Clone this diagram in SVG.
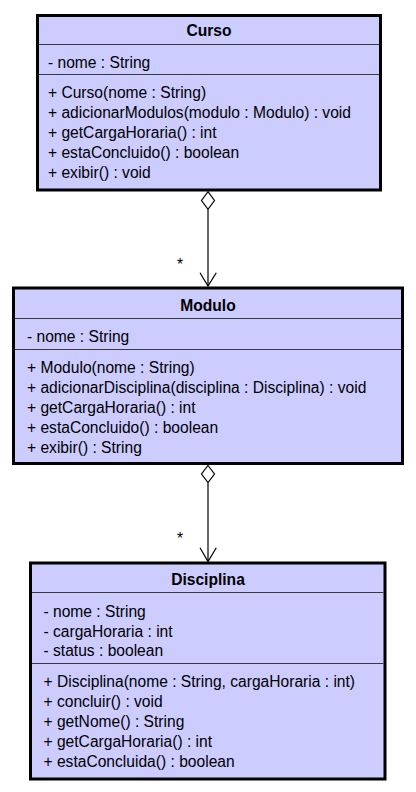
<svg xmlns="http://www.w3.org/2000/svg" width="416" height="792" viewBox="0 0 416 792">
<style>
.box{fill:#ccccff;stroke:#000;stroke-width:3}
.sep{stroke:#3a3a3a;stroke-width:1.2}
.t{font-family:"Liberation Sans",Arial,sans-serif;font-size:15.6px;fill:#000}
.title{font-weight:bold;text-anchor:middle}
.edge{stroke:#000;stroke-width:1.2;fill:none}
.dia{fill:#fff;stroke:#000;stroke-width:1.2}
.star{font-family:"Liberation Sans",Arial,sans-serif;font-size:15.6px;text-anchor:middle}
</style>
<rect width="416" height="792" fill="#fff"/>
<g id="Curso">
<rect class="box" x="37.5" y="15.5" width="343" height="174.5"/>
<line class="sep" x1="39" y1="44.5" x2="379" y2="44.5"/>
<line class="sep" x1="39" y1="74.5" x2="379" y2="74.5"/>
<text class="t title" x="209" y="36">Curso</text>
<text class="t" x="48" y="68">- nome : String</text>
<text class="t" x="48" y="98">+ Curso(nome : String)</text>
<text class="t" x="48" y="118">+ adicionarModulos(modulo : Modulo) : void</text>
<text class="t" x="48" y="138">+ getCargaHoraria() : int</text>
<text class="t" x="48" y="158">+ estaConcluido() : boolean</text>
<text class="t" x="48" y="178">+ exibir() : void</text>
</g>
<g id="Modulo">
<rect class="box" x="13.5" y="288" width="389" height="175.5"/>
<line class="sep" x1="15" y1="318.5" x2="401" y2="318.5"/>
<line class="sep" x1="15" y1="349.5" x2="401" y2="349.5"/>
<text class="t title" x="208" y="310.5">Modulo</text>
<text class="t" x="27" y="342">- nome : String</text>
<text class="t" x="27" y="373">+ Modulo(nome : String)</text>
<text class="t" x="27" y="393">+ adicionarDisciplina(disciplina : Disciplina) : void</text>
<text class="t" x="27" y="413">+ getCargaHoraria() : int</text>
<text class="t" x="27" y="433">+ estaConcluido() : boolean</text>
<text class="t" x="27" y="453">+ exibir() : String</text>
</g>
<g id="Disciplina">
<rect class="box" x="30.5" y="563" width="354.5" height="216"/>
<line class="sep" x1="32" y1="592.5" x2="383.5" y2="592.5"/>
<line class="sep" x1="32" y1="663.5" x2="383.5" y2="663.5"/>
<text class="t title" x="208" y="584.5">Disciplina</text>
<text class="t" x="43.5" y="616.5">- nome : String</text>
<text class="t" x="43.5" y="636.5">- cargaHoraria : int</text>
<text class="t" x="43.5" y="656">- status : boolean</text>
<text class="t" x="43.5" y="687">+ Disciplina(nome : String, cargaHoraria : int)</text>
<text class="t" x="43.5" y="707">+ concluir() : void</text>
<text class="t" x="43.5" y="727">+ getNome() : String</text>
<text class="t" x="43.5" y="747">+ getCargaHoraria() : int</text>
<text class="t" x="43.5" y="767">+ estaConcluida() : boolean</text>
</g>
<g id="connectors">
<line class="edge" x1="208" y1="209.5" x2="208" y2="286"/>
<polygon class="dia" points="208,191.7 214.5,200.5 208,209.3 201.5,200.5"/>
<polyline class="edge" points="200,272.7 208,286 216.3,272.7"/>
<text class="star" x="180" y="269.7">*</text>
<line class="edge" x1="208" y1="482.5" x2="208" y2="561.5"/>
<polygon class="dia" points="208,465.5 214.5,474 208,482.5 201.5,474"/>
<polyline class="edge" points="200,547.7 208,561.5 216.3,547.7"/>
<text class="star" x="180" y="544">*</text>
</g>
</svg>
